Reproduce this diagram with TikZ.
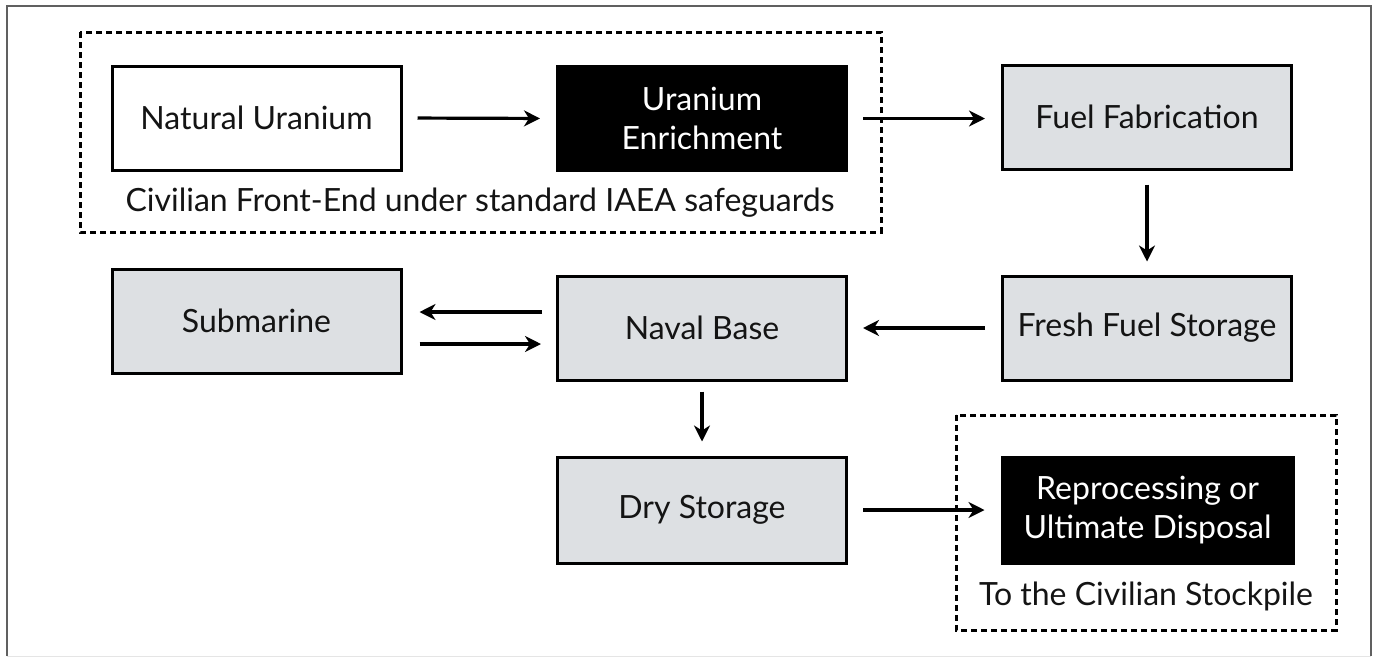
\documentclass[tikz,border=0pt]{standalone}
\usepackage{fontspec}
\setmainfont{Lato}
\usetikzlibrary{arrows.meta}
\definecolor{boxgray}{RGB}{221,224,227}
\definecolor{txtdark}{RGB}{20,20,20}
\begin{document}
\begin{tikzpicture}[x=1pt,y=-1pt,
  box/.style={draw=black,line width=3pt,minimum width=289pt,minimum height=104pt,inner sep=0pt,font=\fontsize{32}{39}\selectfont,align=center},
  graybox/.style={box,fill=boxgray,text=txtdark},
  whitebox/.style={box,fill=white,text=txtdark},
  blackbox/.style={box,fill=black,text=white},
  arr/.style={line width=3.2pt,-{Stealth[length=16pt,width=16pt,inset=5pt]}},
  dashbox/.style={line width=3pt,dash pattern=on 6pt off 4pt},
  caption/.style={font=\fontsize{32}{38}\selectfont,text=txtdark,anchor=base,inner sep=0pt}]
\useasboundingbox (0,0) rectangle (1377,657);
% outer border
\draw[gray!75!black,line width=1.5pt] (7,656) -- (7,6) -- (1371,6) -- (1371,656);
\draw[gray!20,line width=1pt] (7,656) -- (1371,656);
% dashed groups
\draw[dashbox] (80,32) rectangle (881,232);
\draw[dashbox] (956,415) rectangle (1336,630);
% nodes
\node[whitebox] (nu) at (256.5,118) {Natural Uranium};
\node[blackbox] (ue) at (702,118.5) {Uranium\\Enrichment};
\node[graybox] (ff) at (1147,117) {Fuel Fabrication};
\node[graybox] (ffs) at (1147,328) {Fresh Fuel Storage};
\node[graybox] (nb) at (702,328) {Naval Base};
\node[graybox] (sub) at (256.5,321) {Submarine};
\node[graybox,minimum height=106pt] (ds) at (702,510) {Dry Storage};
\node[blackbox,minimum height=106pt,minimum width=291pt] (rp) at (1147.5,510) {Reprocessing or\\Ultimate Disposal};
\node[caption] (cap1) at (480,211) {Civilian Front-End under standard IAEA safeguards};
\node[caption] (cap2) at (1146,605) {To the Civilian Stockpile};
% connectors
\draw[arr,shorten <=15pt,shorten >=16pt] (nu.east) -- (ue.west);
\draw[arr,shorten <=15pt,shorten >=16pt] (ue.east) -- (ue.east -| ff.west);
\draw[arr,shorten <=14pt,shorten >=13pt] (ff.south) -- (ffs.north);
\draw[arr,shorten <=16pt,shorten >=15pt] (ffs.west) -- (nb.east);
\draw[arr,shorten <=14pt,shorten >=17pt] ([yshift=16pt]nb.west) -- ([yshift=16pt]nb.west -| sub.east);
\draw[arr,shorten <=17pt,shorten >=15pt] ([yshift=-16pt]nb.west -| sub.east) -- ([yshift=-16pt]nb.west);
\draw[arr,shorten <=10pt,shorten >=14pt] (nb.south) -- (ds.north);
\draw[arr,shorten <=15pt,shorten >=16pt] (ds.east) -- (rp.west);
\end{tikzpicture}
\end{document}
